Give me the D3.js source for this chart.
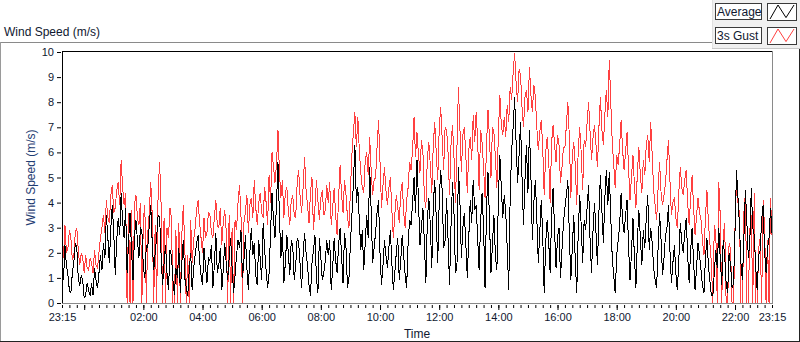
<!DOCTYPE html>
<html>
<head>
<meta charset="utf-8">
<script src="https://cdn.jsdelivr.net/npm/d3@7"></script>
<style>
body { margin: 0; background: #fff; }
svg { display: block; font-family: "Liberation Sans", Arial, sans-serif; }
</style>
</head>
<body>
<div id="chart"></div>
<script>
// plot box inside the 800x342 frame
var W = 800, H = 342;
var plot = {left: 62, top: 52, right: 772, bottom: 303};

// one sample every 3 minutes, starting 23:15
var startTime = new Date(2020, 0, 1, 23, 15);
var sampleMinutes = 3;

var seriesNames = ["Average", "3s Gust"];
var yTicks = [0, 1, 2, 3, 4, 5, 6, 7, 8, 9, 10];
var xLabels = ["23:15", "02:00", "04:00", "06:00", "08:00", "10:00", "12:00",
               "14:00", "16:00", "18:00", "20:00", "22:00", "23:15"];

// 3s gust, m/s (one row per hour)
var gustSpeed = [
  2.5, 1.8, 3.1, 2.0, 2.2, 2.9, 2.6, 1.7, 1.9, 2.8, 3.0, 2.1, 1.5, 2.0, 1.8, 1.2, 1.9, 1.4, 1.3, 1.8,
  1.6, 1.2, 2.1, 1.5, 1.4, 2.0, 2.6, 3.0, 3.5, 2.8, 4.1, 3.4, 3.2, 4.3, 4.7, 3.6, 3.8, 4.5, 4.8, 3.9,
  5.7, 4.6, 3.9, 4.4, 0.0, 3.6, 0.0, 3.7, 0.0, 3.9, 4.3, 3.4, 3.1, 4.0, 0.0, 3.3, 3.9, 0.0, 2.8, 3.6,
  4.8, 3.5, 0.0, 3.1, 0.0, 4.5, 5.6, 3.9, 0.0, 3.4, 0.0, 3.0, 2.6, 3.8, 3.4, 0.0, 0.0, 2.9, 0.0, 3.2,
  0.0, 2.7, 3.9, 2.3, 0.0, 1.9, 0.0, 3.3, 1.6, 2.5, 3.0, 3.7, 4.1, 3.2, 2.6, 2.0, 3.4, 2.6, 2.8, 3.6,
  3.5, 2.8, 2.6, 3.4, 4.1, 3.1, 3.0, 3.8, 2.3, 3.2, 3.7, 2.9, 0.0, 3.5, 0.0, 3.0, 0.0, 3.3, 2.9, 4.0,
  4.7, 3.5, 0.0, 3.2, 3.6, 4.3, 2.8, 3.9, 4.2, 3.4, 4.9, 3.8, 3.1, 4.0, 4.4, 3.6, 3.4, 4.6, 4.0, 3.1,
  5.1, 4.0, 6.0, 5.4, 4.8, 5.5, 6.9, 5.2, 4.2, 4.9, 3.4, 4.4, 4.6, 3.7, 3.1, 4.1, 4.3, 3.5, 3.4, 4.8,
  5.3, 4.2, 3.6, 4.6, 5.8, 4.5, 3.9, 3.2, 4.4, 5.0, 2.9, 3.8, 4.9, 4.1, 3.3, 4.2, 4.5, 3.5, 3.7, 4.7,
  4.0, 4.8, 3.1, 3.8, 4.6, 3.5, 2.7, 4.2, 5.5, 4.3, 3.6, 4.9, 4.3, 3.4, 3.0, 4.5, 5.9, 6.8, 7.6, 6.2,
  7.4, 6.1, 5.2, 4.6, 4.4, 5.7, 6.0, 5.1, 6.6, 5.3, 4.3, 4.9, 5.0, 6.2, 7.3, 5.6, 3.8, 4.7, 5.4, 4.5,
  3.9, 4.6, 5.0, 3.7, 2.6, 3.5, 4.3, 3.8, 3.2, 4.4, 4.8, 3.6, 3.0, 4.1, 4.6, 5.6, 5.3, 6.1, 7.4, 5.8,
  6.8, 5.9, 5.2, 6.5, 6.0, 4.2, 3.8, 5.8, 6.4, 5.5, 4.4, 6.3, 7.2, 6.0, 4.9, 6.9, 7.8, 6.6, 5.3, 7.0,
  6.9, 6.0, 4.3, 6.3, 7.1, 5.8, 4.0, 6.2, 8.6, 7.0, 5.2, 6.7, 7.0, 5.9, 4.4, 6.1, 6.6, 5.7, 7.5, 6.4,
  7.6, 6.5, 4.5, 6.9, 6.4, 5.4, 4.2, 6.3, 7.7, 6.6, 5.0, 7.0, 6.8, 5.8, 4.6, 6.7, 8.3, 7.1, 6.7, 7.4,
  6.6, 7.9, 7.2, 8.6, 8.1, 9.2, 9.95, 8.8, 8.0, 9.3, 9.1, 7.8, 7.0, 8.2, 8.5, 7.6, 9.4, 8.3, 7.6, 8.7,
  8.2, 7.0, 6.1, 6.8, 7.3, 6.2, 4.3, 6.0, 6.6, 5.8, 4.0, 6.4, 7.1, 6.3, 5.6, 6.7, 6.3, 4.8, 5.4, 6.2,
  6.2, 7.1, 8.0, 6.6, 4.2, 5.9, 6.4, 5.5, 3.9, 6.1, 7.0, 6.0, 4.5, 6.5, 6.2, 7.2, 8.0, 6.8, 5.7, 6.6,
  7.1, 6.3, 5.4, 7.0, 8.2, 6.9, 6.3, 7.5, 8.5, 7.4, 9.7, 8.0, 6.4, 5.5, 4.6, 5.9, 5.5, 6.3, 7.3, 6.1,
  5.3, 6.0, 6.8, 5.4, 4.1, 5.0, 5.9, 4.7, 3.8, 5.2, 6.2, 5.1, 4.4, 5.7, 5.1, 6.3, 6.7, 5.6, 7.2, 5.9,
  4.5, 3.9, 3.3, 4.6, 5.6, 4.4, 3.9, 4.3, 4.8, 5.7, 6.5, 4.9, 3.5, 4.0, 4.2, 3.4, 3.0, 4.4, 5.4, 4.6,
  4.3, 4.9, 5.3, 4.0, 3.1, 4.2, 5.1, 3.8, 2.7, 3.5, 4.2, 3.6, 3.3, 2.5, 1.9, 3.4, 4.5, 3.2, 2.4, 1.6,
  0.0, 3.1, 2.8, 0.0, 4.8, 3.5, 0.0, 2.6, 3.2, 0.0, 0.0, 2.4, 2.1, 0.0, 0.0, 3.0, 4.9, 4.0, 3.6, 0.0,
  0.0, 3.6, 4.4, 0.0, 0.0, 2.9, 3.5, 0.0, 4.4, 0.0, 0.0, 2.2, 2.6, 0.0, 4.1, 3.0, 0.0, 2.5, 0.0, 4.2,
  2.7
];

// average, m/s
var avgSpeed = [
  1.4, 0.9, 2.3, 1.5, 1.1, 0.5, 0.4, 1.2, 1.6, 2.4, 2.2, 1.0, 0.7, 1.1, 0.9, 0.2, 0.3, 0.8, 0.5, 0.3,
  0.8, 0.3, 1.4, 0.9, 0.6, 1.2, 1.9, 1.3, 2.4, 1.8, 3.5, 2.6, 1.6, 3.0, 3.9, 2.8, 1.1, 2.5, 3.4, 2.7,
  4.4, 3.2, 2.6, 3.8, 1.2, 2.4, 3.6, 2.1, 0.9, 2.7, 3.3, 2.5, 1.8, 3.0, 2.9, 1.4, 1.0, 2.3, 2.2, 3.1,
  3.9, 2.4, 1.3, 2.0, 2.6, 3.5, 3.4, 1.9, 0.7, 1.6, 2.3, 1.2, 0.5, 2.1, 1.9, 0.9, 0.3, 1.4, 1.0, 2.2,
  0.4, 1.6, 2.5, 1.0, 0.6, 0.3, 1.3, 2.0, 0.5, 1.4, 1.9, 2.4, 2.7, 1.7, 1.1, 0.7, 2.2, 1.5, 0.8, 1.8,
  1.7, 2.3, 0.6, 1.5, 2.8, 1.2, 1.5, 2.2, 0.5, 1.3, 2.4, 1.6, 0.9, 1.8, 2.6, 1.4, 0.4, 1.1, 1.9, 2.5,
  2.2, 2.9, 1.0, 1.7, 2.7, 1.4, 0.5, 2.0, 3.0, 1.9, 2.4, 1.1, 0.7, 2.5, 1.8, 0.9, 3.2, 2.1, 1.3, 0.6,
  1.2, 2.8, 4.4, 3.3, 2.6, 3.9, 5.6, 3.4, 1.8, 2.9, 0.8, 1.6, 2.7, 2.0, 1.1, 2.5, 2.3, 0.9, 1.5, 2.6,
  2.4, 1.5, 0.6, 1.9, 2.8, 2.0, 1.5, 0.7, 0.3, 1.6, 2.1, 2.7, 1.0, 0.4, 2.6, 1.8, 0.9, 1.2, 1.7, 2.5,
  1.9, 2.5, 0.5, 1.4, 2.6, 1.7, 1.2, 2.3, 3.0, 1.9, 0.8, 2.8, 2.2, 0.6, 1.0, 2.4, 3.5, 4.8, 6.3, 4.0,
  4.6, 3.3, 2.1, 2.9, 1.3, 2.4, 3.5, 2.6, 5.4, 3.7, 1.6, 2.2, 2.8, 3.6, 4.1, 2.0, 0.7, 1.5, 2.5, 1.9,
  1.4, 2.2, 2.9, 1.6, 0.5, 1.2, 2.0, 2.6, 0.9, 1.7, 2.7, 1.9, 1.1, 0.6, 2.4, 3.3, 3.1, 4.0, 5.0, 3.6,
  5.7, 4.1, 2.3, 3.0, 3.8, 2.4, 0.8, 3.3, 4.2, 3.1, 1.4, 3.9, 4.9, 3.4, 1.6, 4.0, 5.3, 4.5, 2.2, 2.5,
  4.2, 2.5, 0.7, 3.1, 4.8, 3.6, 1.2, 1.4, 5.4, 4.1, 1.8, 3.0, 3.6, 2.4, 1.0, 2.6, 4.1, 3.2, 4.9, 3.7,
  3.9, 2.6, 1.3, 3.2, 4.4, 3.0, 0.6, 3.8, 5.2, 3.3, 1.2, 2.3, 3.5, 1.9, 1.3, 4.1, 5.9, 4.6, 3.4, 4.3,
  3.6, 2.2, 0.5, 4.3, 6.1, 7.0, 8.2, 6.4, 4.8, 5.9, 7.2, 5.0, 3.1, 4.9, 6.3, 4.4, 6.9, 5.1, 2.5, 4.0,
  4.9, 3.4, 1.6, 2.8, 4.1, 2.7, 0.4, 2.4, 3.3, 2.5, 1.2, 3.5, 4.6, 2.9, 1.4, 2.6, 3.0, 1.0, 2.1, 3.2,
  3.8, 4.3, 4.9, 2.7, 0.9, 2.2, 3.5, 1.7, 0.4, 2.8, 4.3, 3.1, 1.6, 3.3, 2.9, 3.8, 4.7, 2.5, 1.2, 2.9,
  4.0, 2.8, 1.5, 3.6, 5.1, 3.7, 2.4, 4.2, 5.3, 3.9, 5.2, 3.4, 1.8, 1.1, 0.4, 1.9, 2.5, 3.1, 4.4, 3.3,
  2.8, 3.5, 4.1, 2.3, 0.9, 2.0, 3.4, 1.8, 0.6, 2.5, 3.7, 2.6, 1.5, 2.9, 2.2, 3.4, 4.3, 2.1, 3.0, 2.4,
  1.4, 0.9, 0.6, 2.2, 3.6, 2.5, 1.1, 1.8, 2.7, 3.0, 3.9, 2.1, 0.8, 1.6, 2.3, 1.2, 0.5, 1.7, 3.2, 2.4,
  2.0, 2.8, 3.4, 1.9, 0.8, 2.1, 3.0, 1.6, 0.5, 1.4, 2.4, 1.9, 1.3, 0.7, 0.4, 1.8, 2.6, 1.5, 0.9, 0.3,
  0.3, 1.2, 2.1, 1.4, 3.0, 1.8, 0.7, 2.5, 1.9, 0.8, 0.4, 2.0, 1.5, 0.6, 0.8, 2.9, 5.3, 4.2, 3.1, 1.6,
  0.9, 2.6, 4.5, 3.2, 1.8, 2.4, 4.6, 3.0, 2.7, 1.4, 0.5, 1.9, 2.1, 3.3, 3.9, 2.0, 1.2, 2.2, 2.6, 3.8,
  2.8
];

var textColor = "#101830";
var gustColor = "#ff4040";

var endTime = d3.timeMinute.offset(startTime, 24 * 60);

var x = d3.scaleTime().domain([startTime, endTime]).range([plot.left, plot.right]);
var y = d3.scaleLinear().domain([0, 10]).range([plot.bottom, plot.top]);

var timeOf = function(d, i) { return d3.timeMinute.offset(startTime, i * sampleMinutes); };

var svg = d3.select("#chart").append("svg")
    .attr("width", W)
    .attr("height", H);

// outer frame
svg.append("line").attr("x1", 0).attr("x2", 712).attr("y1", 42.5).attr("y2", 42.5).attr("stroke", "#8a8a8a");
svg.append("line").attr("x1", 0.5).attr("x2", 0.5).attr("y1", 42).attr("y2", 341).attr("stroke", "#9a9a9a");
svg.append("line").attr("x1", 0).attr("x2", 800).attr("y1", 341.5).attr("y2", 341.5).attr("stroke", "#222");
svg.append("line").attr("x1", 799.5).attr("x2", 799.5).attr("y1", 49).attr("y2", 342).attr("stroke", "#222");

// chart title
svg.append("text")
    .attr("x", 4)
    .attr("y", 36)
    .style("font-size", "12px")
    .attr("fill", textColor)
    .text("Wind Speed (m/s)");

// plot area
svg.append("rect")
    .attr("x", plot.left).attr("y", plot.top)
    .attr("width", plot.right - plot.left).attr("height", plot.bottom - plot.top)
    .attr("fill", "#fff");

svg.append("defs").append("clipPath").attr("id", "clip")
  .append("rect")
    .attr("x", plot.left).attr("y", plot.top - 1)
    .attr("width", plot.right - plot.left + 1).attr("height", plot.bottom - plot.top + 2);

var line = d3.line()
    .x(function(d, i) { return x(timeOf(d, i)); })
    .y(function(d) { return y(d); });

var marks = svg.append("g").attr("clip-path", "url(#clip)");

marks.append("path")
    .datum(gustSpeed)
    .attr("d", line)
    .attr("fill", "none")
    .attr("stroke", gustColor)
    .attr("stroke-width", 1)
    .style("shape-rendering", "crispEdges");

marks.append("path")
    .datum(avgSpeed)
    .attr("d", line)
    .attr("fill", "none")
    .attr("stroke", "#000")
    .attr("stroke-width", 1)
    .style("shape-rendering", "crispEdges");

// plot border: black top/left, gray bottom/right
svg.append("line").attr("x1", plot.left).attr("x2", plot.right).attr("y1", plot.top - 0.5).attr("y2", plot.top - 0.5).attr("stroke", "#000");
svg.append("line").attr("x1", plot.left + 0.5).attr("x2", plot.left + 0.5).attr("y1", plot.top - 1).attr("y2", plot.bottom).attr("stroke", "#000");
svg.append("line").attr("x1", plot.left).attr("x2", plot.right + 1).attr("y1", plot.bottom + 0.5).attr("y2", plot.bottom + 0.5).attr("stroke", "#8a8a8a");
svg.append("line").attr("x1", plot.right + 0.5).attr("x2", plot.right + 0.5).attr("y1", plot.top - 1).attr("y2", plot.bottom + 1).attr("stroke", "#8a8a8a");

// y-axis
var yAxis = svg.append("g")
    .attr("transform", "translate(" + (plot.left - 1) + ",0)")
    .call(d3.axisLeft(y).tickValues(yTicks).tickSize(4).tickPadding(3).tickFormat(d3.format("d")));
yAxis.select(".domain").remove();
yAxis.selectAll("line").attr("stroke", "#000");
yAxis.selectAll("text")
    .attr("fill", textColor)
    .style("font-size", "11px")
    .attr("font-family", null);

// x-axis: minor ticks every 15 min, longer ticks every 2 h, then labels
var minorTicks = d3.timeMinute.every(15).range(startTime, d3.timeMinute.offset(endTime, 1));
var majorTicks = d3.timeHour.every(2).range(startTime, endTime);
var labelTimes = xLabels.map(function(s, i) {
    if (i === xLabels.length - 1) return endTime;
    var p = s.split(":");
    var m = (+p[0] * 60 + +p[1] - (23 * 60 + 15) + 1440) % 1440;
    return d3.timeMinute.offset(startTime, m);
});

var xMinor = svg.append("g")
    .attr("transform", "translate(0," + (plot.bottom + 2) + ")")
    .call(d3.axisBottom(x).tickValues(minorTicks).tickSize(3).tickFormat(""));
var xMajor = svg.append("g")
    .attr("transform", "translate(0," + (plot.bottom + 2) + ")")
    .call(d3.axisBottom(x).tickValues(majorTicks).tickSize(5).tickFormat(""));
var xText = svg.append("g")
    .attr("transform", "translate(0," + (plot.bottom + 2) + ")")
    .call(d3.axisBottom(x).tickValues(labelTimes).tickSize(0).tickPadding(8)
        .tickFormat(function(d, i) { return xLabels[i]; }));

[xMinor, xMajor, xText].forEach(function(g) {
    g.select(".domain").remove();
    g.selectAll("line").attr("stroke", "#000");
});
xText.selectAll("text")
    .attr("fill", textColor)
    .style("font-size", "11px")
    .attr("font-family", null);

// axis titles
svg.append("text")
    .attr("x", (plot.left + plot.right) / 2)
    .attr("y", 338)
    .attr("text-anchor", "middle")
    .style("font-size", "12px")
    .attr("fill", textColor)
    .text("Time");

svg.append("text")
    .attr("transform", "rotate(-90)")
    .attr("x", -(plot.top + plot.bottom) / 2)
    .attr("y", 35)
    .attr("text-anchor", "middle")
    .style("font-size", "12px")
    .attr("fill", "#1f3d73")
    .text("Wind Speed (m/s)");

// legend panel, top right
var legend = svg.append("g");
legend.append("rect")
    .attr("x", 712).attr("y", 0).attr("width", 88).attr("height", 48)
    .attr("fill", "#f0f0f0");
legend.append("line").attr("x1", 712).attr("x2", 800).attr("y1", 48.5).attr("y2", 48.5).attr("stroke", "#c8c8c8");
legend.append("line").attr("x1", 712.5).attr("x2", 712.5).attr("y1", 0).attr("y2", 48).attr("stroke", "#e0e0e0");

var legendColors = ["#000", gustColor];
var iconY = d3.scaleLinear().domain([0, 1]).range([14, 0]);
var iconShape = [0, 1, 0.1, 1];

seriesNames.forEach(function(name, i) {
    var top = 3 + i * 24;
    legend.append("rect")
        .attr("x", 715.5).attr("y", top + 0.5).attr("width", 46).attr("height", 16)
        .attr("fill", "#fff").attr("stroke", "#3a3a3a");
    legend.append("text")
        .attr("x", 717).attr("y", top + 13)
        .style("font-size", "12px")
        .attr("fill", textColor)
        .text(name);
    legend.append("rect")
        .attr("x", 767.5).attr("y", top + 0.5).attr("width", 29).attr("height", 17)
        .attr("fill", "#fff").attr("stroke", "#3a3a3a");
    legend.append("path")
        .datum(iconShape)
        .attr("d", d3.line()
            .x(function(d, k) { return 770 + k * 8; })
            .y(function(d) { return top + 2 + iconY(d); }))
        .attr("fill", "none")
        .attr("stroke", legendColors[i]);
});
</script>
</body>
</html>
